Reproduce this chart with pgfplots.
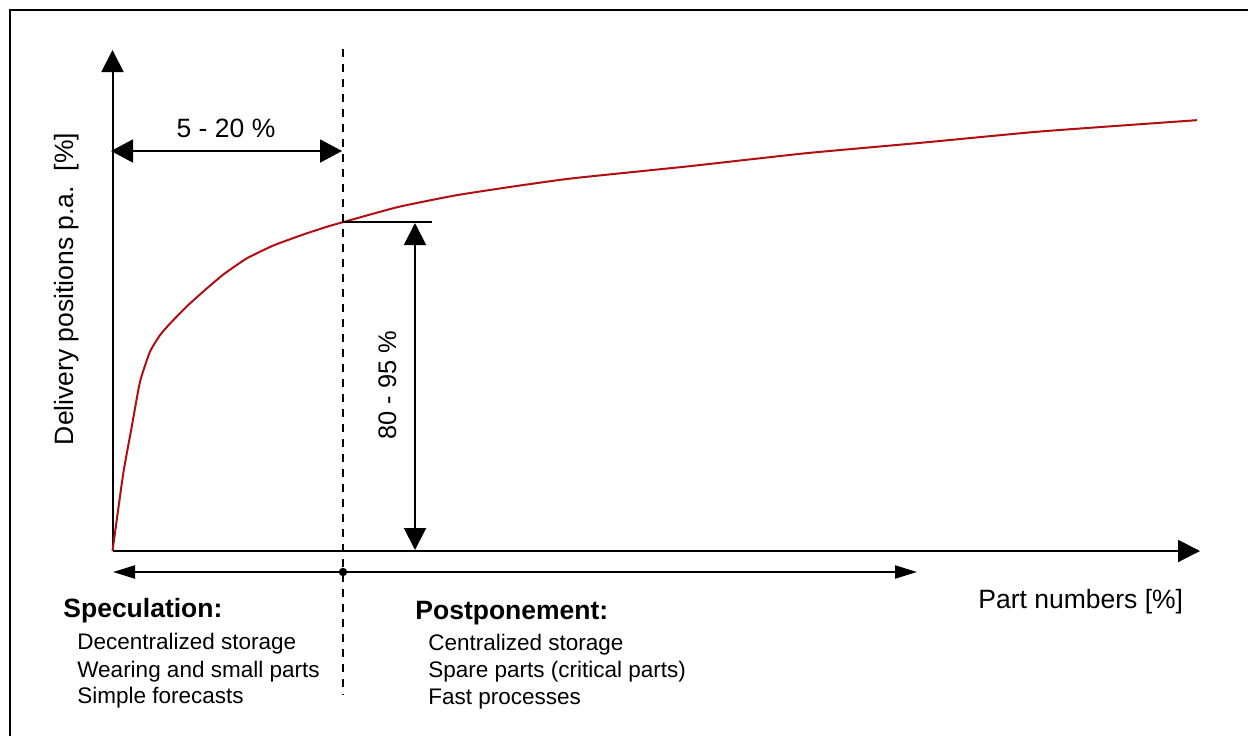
\documentclass[border=0pt]{standalone}
\usepackage{fontspec}
\setmainfont{Liberation Sans}
\usepackage{pgfplots}
\pgfplotsset{compat=1.18}
\usetikzlibrary{arrows.meta}
\definecolor{curvered}{RGB}{178,14,18}
\newcommand{\bigtxt}{\fontsize{13.25}{16}\selectfont}
\newcommand{\smalltxt}{\fontsize{11.25}{14}\selectfont}
\begin{document}
\begin{tikzpicture}
\begin{scope}[x=0.5pt,y=-0.5pt]
\useasboundingbox (0,0) rectangle (1248,735);
\draw[line width=1pt] (10,736) -- (10,10) -- (1249,10);
\end{scope}
\begin{axis}[at={(56.25pt,-275.5pt)}, anchor=south west,
  width=543.75pt, height=250.5pt, scale only axis,
  xmin=0, xmax=100, ymin=0, ymax=100,
  axis lines=left,
  axis line style={line width=1pt, -{Triangle[length=11pt,width=11pt]}},
  xtick=\empty, ytick=\empty, clip=false]
\addplot[curvered, line width=1pt, smooth, tension=0.3] coordinates {
(0,0) (0.99,15.5) (1.77,24.8) (2.53,33.8) (3.45,39.8) (4.37,43.1) (5.29,45.4)
(6.82,48.8) (8.35,51.8) (10.19,55.19) (12.34,58.4) (14.79,60.98) (17.54,63.17)
(19.70,64.71) (21.13,65.6) (26.25,68.66) (31.59,71.0) (37.01,72.81) (42.34,74.4) (53.01,76.8)
(63.77,79.4) (74.44,81.5) (85.10,83.7) (95.86,85.4) (99.72,86.0)};
\end{axis}
\begin{scope}[x=0.5pt,y=-0.5pt]
\draw[line width=1pt, dash pattern=on 4pt off 3.5pt] (343,49) -- (343,695);
\draw[line width=1pt, {Triangle[length=11pt,width=11.5pt]}-{Triangle[length=11pt,width=11.5pt]}] (111,151) -- (342,151);
\node[anchor=base, font=\bigtxt, inner sep=0pt] at (226,137) {5 - 20 \%};
\draw[line width=1pt] (343,222) -- (432,222);
\draw[line width=1pt, {Triangle[length=11pt,width=11pt]}-{Triangle[length=11pt,width=11pt]}] (415,223) -- (415,550);
\node[rotate=90, anchor=base, font=\fontsize{12.7}{15}\selectfont, inner sep=0pt] at (396,385) {80 - 95 \%};
\node[rotate=90, anchor=base, font=\bigtxt, inner sep=0pt] at (73,289) {Delivery positions p.a.\ \ [\%]};
\draw[line width=1pt, {Triangle[length=11pt,width=6.5pt]}-{Triangle[length=11pt,width=6.5pt]}] (113,572) -- (917,572);
\fill (343,572) circle[radius=2.1pt];
\node[anchor=base west, font=\bigtxt, inner sep=0pt] at (978,608) {Part numbers [\%]};
\node[anchor=base west, font=\bigtxt\bfseries, inner sep=0pt] at (63,617) {Speculation:};
\node[anchor=base west, font=\smalltxt, inner sep=0pt] at (77,649) {Decentralized storage};
\node[anchor=base west, font=\smalltxt, inner sep=0pt] at (77,677) {Wearing and small parts};
\node[anchor=base west, font=\smalltxt, inner sep=0pt] at (77,703) {Simple forecasts};
\node[anchor=base west, font=\bigtxt\bfseries, inner sep=0pt] at (415,619) {Postponement:};
\node[anchor=base west, font=\smalltxt, inner sep=0pt] at (428,650) {Centralized storage};
\node[anchor=base west, font=\smalltxt, inner sep=0pt] at (428,677) {Spare parts (critical parts)};
\node[anchor=base west, font=\smalltxt, inner sep=0pt] at (428,704) {Fast processes};
\end{scope}
\end{tikzpicture}
\end{document}
